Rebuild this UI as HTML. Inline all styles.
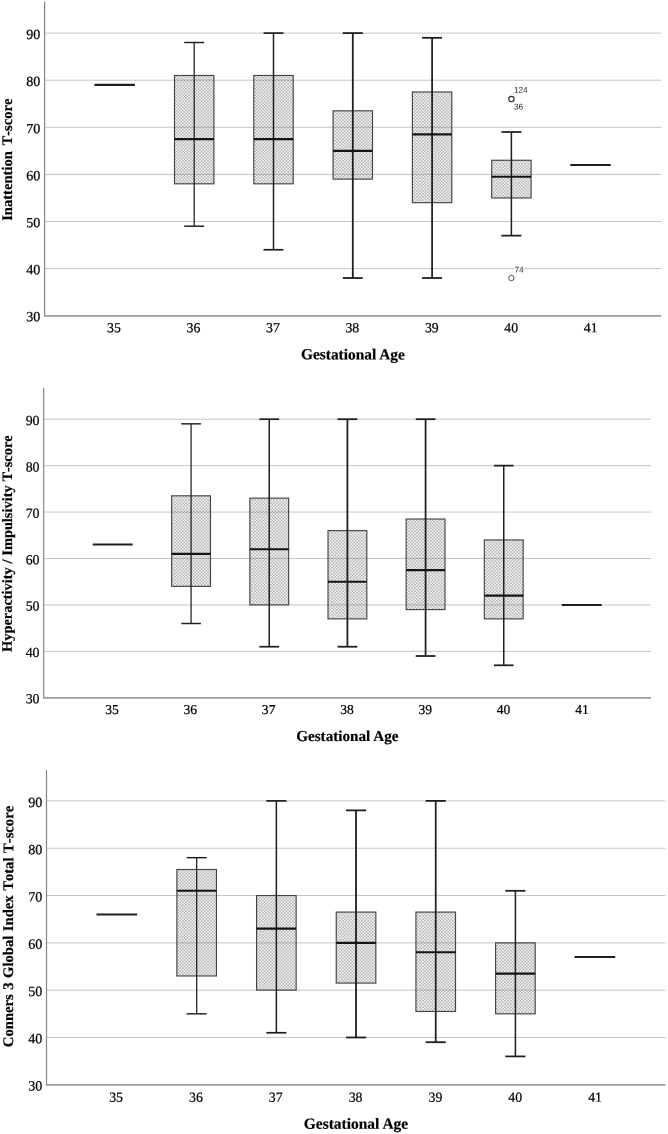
<!DOCTYPE html>
<html lang="en">
<head>
<meta charset="utf-8">
<title>Boxplots of Conners 3 T-scores by Gestational Age</title>
<style>
html,body{margin:0;padding:0;background:#fff;}
body{width:668px;height:1134px;overflow:hidden;}
svg{display:block;will-change:transform;}
text{text-rendering:geometricPrecision;}
.tick{font-family:"Liberation Serif","Times New Roman",Times,serif;fill:#000;stroke:#000;stroke-width:0.22px;}
.ttl{font-family:"Liberation Serif","Times New Roman",Times,serif;font-weight:bold;fill:#000;stroke:#000;stroke-width:0.2px;}
.ylab{font-kerning:none;}
.ol{font-family:"Liberation Sans",Arial,Helvetica,sans-serif;fill:#222;}
</style>
</head>
<body>
<svg width="668" height="1134" viewBox="0 0 668 1134">
<defs>
<pattern id="dots" x="0" y="0" width="3.14" height="3.14" patternUnits="userSpaceOnUse"><rect x="0" y="0" width="3.14" height="3.14" fill="#000" fill-opacity="0.04"/><circle cx="0.785" cy="0.785" r="0.65" fill="#686868"/><circle cx="2.355" cy="2.355" r="0.65" fill="#686868"/></pattern>
</defs>
<rect x="0" y="0" width="668" height="1134" fill="#ffffff"/>
<g id="chart1">
<line x1="44.60" y1="268.60" x2="661.30" y2="268.60" stroke="#c6c6c6" stroke-width="1.0"/>
<line x1="44.60" y1="221.50" x2="661.30" y2="221.50" stroke="#c6c6c6" stroke-width="1.0"/>
<line x1="44.60" y1="174.40" x2="661.30" y2="174.40" stroke="#c6c6c6" stroke-width="1.0"/>
<line x1="44.60" y1="127.30" x2="661.30" y2="127.30" stroke="#c6c6c6" stroke-width="1.0"/>
<line x1="44.60" y1="80.20" x2="661.30" y2="80.20" stroke="#c6c6c6" stroke-width="1.0"/>
<line x1="44.60" y1="33.10" x2="661.30" y2="33.10" stroke="#c6c6c6" stroke-width="1.0"/>
<line x1="94.45" y1="84.91" x2="134.95" y2="84.91" stroke="#1e1e1e" stroke-width="2.1"/>
<rect x="174.50" y="75.49" width="39.40" height="108.33" fill="url(#dots)" stroke="#444444" stroke-width="1.15"/>
<line x1="194.20" y1="42.52" x2="194.20" y2="226.21" stroke="#1e1e1e" stroke-width="1.25"/>
<line x1="184.20" y1="42.52" x2="204.20" y2="42.52" stroke="#1e1e1e" stroke-width="1.45"/>
<line x1="184.20" y1="226.21" x2="204.20" y2="226.21" stroke="#1e1e1e" stroke-width="1.45"/>
<line x1="174.50" y1="139.08" x2="213.90" y2="139.08" stroke="#141414" stroke-width="2.1"/>
<rect x="253.80" y="75.49" width="39.40" height="108.33" fill="url(#dots)" stroke="#444444" stroke-width="1.15"/>
<line x1="273.50" y1="33.10" x2="273.50" y2="249.76" stroke="#1e1e1e" stroke-width="1.50"/>
<line x1="263.50" y1="33.10" x2="283.50" y2="33.10" stroke="#1e1e1e" stroke-width="1.70"/>
<line x1="263.50" y1="249.76" x2="283.50" y2="249.76" stroke="#1e1e1e" stroke-width="1.70"/>
<line x1="253.80" y1="139.08" x2="293.20" y2="139.08" stroke="#141414" stroke-width="2.1"/>
<rect x="333.10" y="110.82" width="39.40" height="68.29" fill="url(#dots)" stroke="#444444" stroke-width="1.15"/>
<line x1="352.80" y1="33.10" x2="352.80" y2="278.02" stroke="#1e1e1e" stroke-width="1.80"/>
<line x1="342.80" y1="33.10" x2="362.80" y2="33.10" stroke="#1e1e1e" stroke-width="1.80"/>
<line x1="342.80" y1="278.02" x2="362.80" y2="278.02" stroke="#1e1e1e" stroke-width="1.80"/>
<line x1="333.10" y1="150.85" x2="372.50" y2="150.85" stroke="#141414" stroke-width="2.1"/>
<rect x="412.40" y="91.98" width="39.40" height="110.69" fill="url(#dots)" stroke="#444444" stroke-width="1.15"/>
<line x1="432.10" y1="37.81" x2="432.10" y2="278.02" stroke="#1e1e1e" stroke-width="1.75"/>
<line x1="422.10" y1="37.81" x2="442.10" y2="37.81" stroke="#1e1e1e" stroke-width="1.80"/>
<line x1="422.10" y1="278.02" x2="442.10" y2="278.02" stroke="#1e1e1e" stroke-width="1.80"/>
<line x1="412.40" y1="134.37" x2="451.80" y2="134.37" stroke="#141414" stroke-width="2.1"/>
<rect x="491.70" y="160.27" width="39.40" height="37.68" fill="url(#dots)" stroke="#444444" stroke-width="1.15"/>
<line x1="511.40" y1="132.01" x2="511.40" y2="235.63" stroke="#1e1e1e" stroke-width="1.50"/>
<line x1="501.40" y1="132.01" x2="521.40" y2="132.01" stroke="#1e1e1e" stroke-width="1.75"/>
<line x1="501.40" y1="235.63" x2="521.40" y2="235.63" stroke="#1e1e1e" stroke-width="1.75"/>
<line x1="491.70" y1="176.76" x2="531.10" y2="176.76" stroke="#141414" stroke-width="2.1"/>
<line x1="570.25" y1="164.98" x2="610.75" y2="164.98" stroke="#1e1e1e" stroke-width="2.1"/>
<text class="ol" x="513.90" y="92.64" transform="rotate(0.03 513.90 92.64)" font-size="8.3" stroke="#fff" stroke-width="2" paint-order="stroke" stroke-linejoin="round">124</text>
<text class="ol" x="513.90" y="109.54" transform="rotate(0.03 513.90 109.54)" font-size="8.3" stroke="#fff" stroke-width="2" paint-order="stroke" stroke-linejoin="round">36</text>
<circle cx="511.40" cy="99.04" r="2.7" fill="none" stroke="#2a2a2a" stroke-width="1.15"/>
<text class="ol" x="514.50" y="272.62" transform="rotate(0.03 514.50 272.62)" font-size="8.3" stroke="#fff" stroke-width="2" paint-order="stroke" stroke-linejoin="round">74</text>
<circle cx="511.40" cy="278.02" r="2.7" fill="none" stroke="#4a4a4a" stroke-width="0.95"/>
<line x1="44.60" y1="1.60" x2="44.60" y2="316.50" stroke="#868686" stroke-width="1.2"/>
<line x1="44.00" y1="315.85" x2="661.30" y2="315.85" stroke="#9e9e9e" stroke-width="1.75"/>
<text class="tick" x="40.40" y="321.30" transform="rotate(0.03 40.40 321.30)" font-size="14.10" text-anchor="end">30</text>
<text class="tick" x="40.40" y="274.27" transform="rotate(0.03 40.40 274.27)" font-size="14.10" text-anchor="end">40</text>
<text class="tick" x="40.40" y="227.23" transform="rotate(0.03 40.40 227.23)" font-size="14.10" text-anchor="end">50</text>
<text class="tick" x="40.40" y="180.20" transform="rotate(0.03 40.40 180.20)" font-size="14.10" text-anchor="end">60</text>
<text class="tick" x="40.40" y="133.17" transform="rotate(0.03 40.40 133.17)" font-size="14.10" text-anchor="end">70</text>
<text class="tick" x="40.40" y="86.13" transform="rotate(0.03 40.40 86.13)" font-size="14.10" text-anchor="end">80</text>
<text class="tick" x="40.40" y="39.10" transform="rotate(0.03 40.40 39.10)" font-size="14.10" text-anchor="end">90</text>
<text class="tick" x="114.00" y="332.20" transform="rotate(0.03 114.00 332.20)" font-size="13.80" text-anchor="middle">35</text>
<text class="tick" x="193.45" y="332.20" transform="rotate(0.03 193.45 332.20)" font-size="13.80" text-anchor="middle">36</text>
<text class="tick" x="272.90" y="332.20" transform="rotate(0.03 272.90 332.20)" font-size="13.80" text-anchor="middle">37</text>
<text class="tick" x="352.35" y="332.20" transform="rotate(0.03 352.35 332.20)" font-size="13.80" text-anchor="middle">38</text>
<text class="tick" x="431.80" y="332.20" transform="rotate(0.03 431.80 332.20)" font-size="13.80" text-anchor="middle">39</text>
<text class="tick" x="511.25" y="332.20" transform="rotate(0.03 511.25 332.20)" font-size="13.80" text-anchor="middle">40</text>
<text class="tick" x="590.70" y="332.20" transform="rotate(0.03 590.70 332.20)" font-size="13.80" text-anchor="middle">41</text>
<text class="ttl" x="352.95" y="359.40" transform="rotate(0.03 352.95 359.40)" font-size="15.40" text-anchor="middle">Gestational Age</text>
<text class="ttl ylab" transform="translate(12.00 159.70) rotate(-89.97)" font-size="14.60" word-spacing="1.90" text-anchor="middle">Inattention T-score</text>
</g>
<g id="chart2">
<line x1="43.70" y1="651.37" x2="651.00" y2="651.37" stroke="#c6c6c6" stroke-width="1.0"/>
<line x1="43.70" y1="604.93" x2="651.00" y2="604.93" stroke="#c6c6c6" stroke-width="1.0"/>
<line x1="43.70" y1="558.50" x2="651.00" y2="558.50" stroke="#c6c6c6" stroke-width="1.0"/>
<line x1="43.70" y1="512.07" x2="651.00" y2="512.07" stroke="#c6c6c6" stroke-width="1.0"/>
<line x1="43.70" y1="465.63" x2="651.00" y2="465.63" stroke="#c6c6c6" stroke-width="1.0"/>
<line x1="43.70" y1="419.20" x2="651.00" y2="419.20" stroke="#c6c6c6" stroke-width="1.0"/>
<line x1="92.75" y1="544.57" x2="132.65" y2="544.57" stroke="#1e1e1e" stroke-width="2.1"/>
<rect x="171.67" y="495.81" width="38.81" height="90.55" fill="url(#dots)" stroke="#444444" stroke-width="1.15"/>
<line x1="191.07" y1="423.84" x2="191.07" y2="623.51" stroke="#1e1e1e" stroke-width="1.25"/>
<line x1="181.22" y1="423.84" x2="200.92" y2="423.84" stroke="#1e1e1e" stroke-width="1.45"/>
<line x1="181.22" y1="623.51" x2="200.92" y2="623.51" stroke="#1e1e1e" stroke-width="1.45"/>
<line x1="171.67" y1="553.86" x2="210.47" y2="553.86" stroke="#141414" stroke-width="2.1"/>
<rect x="249.84" y="498.14" width="38.81" height="106.80" fill="url(#dots)" stroke="#444444" stroke-width="1.15"/>
<line x1="269.24" y1="419.20" x2="269.24" y2="646.72" stroke="#1e1e1e" stroke-width="1.50"/>
<line x1="259.39" y1="419.20" x2="279.09" y2="419.20" stroke="#1e1e1e" stroke-width="1.70"/>
<line x1="259.39" y1="646.72" x2="279.09" y2="646.72" stroke="#1e1e1e" stroke-width="1.70"/>
<line x1="249.84" y1="549.21" x2="288.64" y2="549.21" stroke="#141414" stroke-width="2.1"/>
<rect x="328.01" y="530.64" width="38.81" height="88.22" fill="url(#dots)" stroke="#444444" stroke-width="1.15"/>
<line x1="347.41" y1="419.20" x2="347.41" y2="646.72" stroke="#1e1e1e" stroke-width="1.80"/>
<line x1="337.56" y1="419.20" x2="357.26" y2="419.20" stroke="#1e1e1e" stroke-width="1.80"/>
<line x1="337.56" y1="646.72" x2="357.26" y2="646.72" stroke="#1e1e1e" stroke-width="1.80"/>
<line x1="328.01" y1="581.72" x2="366.81" y2="581.72" stroke="#141414" stroke-width="2.1"/>
<rect x="406.18" y="519.03" width="38.81" height="90.54" fill="url(#dots)" stroke="#444444" stroke-width="1.15"/>
<line x1="425.58" y1="419.20" x2="425.58" y2="656.01" stroke="#1e1e1e" stroke-width="1.75"/>
<line x1="415.73" y1="419.20" x2="435.43" y2="419.20" stroke="#1e1e1e" stroke-width="1.80"/>
<line x1="415.73" y1="656.01" x2="435.43" y2="656.01" stroke="#1e1e1e" stroke-width="1.80"/>
<line x1="406.18" y1="570.11" x2="444.98" y2="570.11" stroke="#141414" stroke-width="2.1"/>
<rect x="484.35" y="539.93" width="38.81" height="78.94" fill="url(#dots)" stroke="#444444" stroke-width="1.15"/>
<line x1="503.75" y1="465.63" x2="503.75" y2="665.30" stroke="#1e1e1e" stroke-width="1.50"/>
<line x1="493.90" y1="465.63" x2="513.60" y2="465.63" stroke="#1e1e1e" stroke-width="1.75"/>
<line x1="493.90" y1="665.30" x2="513.60" y2="665.30" stroke="#1e1e1e" stroke-width="1.75"/>
<line x1="484.35" y1="595.65" x2="523.15" y2="595.65" stroke="#141414" stroke-width="2.1"/>
<line x1="561.77" y1="604.93" x2="601.67" y2="604.93" stroke="#1e1e1e" stroke-width="2.1"/>
<line x1="43.70" y1="388.00" x2="43.70" y2="698.60" stroke="#868686" stroke-width="1.2"/>
<line x1="43.10" y1="697.95" x2="651.00" y2="697.95" stroke="#9e9e9e" stroke-width="1.75"/>
<text class="tick" x="39.50" y="703.32" transform="rotate(0.03 39.50 703.32)" font-size="13.89" text-anchor="end">30</text>
<text class="tick" x="39.50" y="656.95" transform="rotate(0.03 39.50 656.95)" font-size="13.89" text-anchor="end">40</text>
<text class="tick" x="39.50" y="610.58" transform="rotate(0.03 39.50 610.58)" font-size="13.89" text-anchor="end">50</text>
<text class="tick" x="39.50" y="564.22" transform="rotate(0.03 39.50 564.22)" font-size="13.89" text-anchor="end">60</text>
<text class="tick" x="39.50" y="517.85" transform="rotate(0.03 39.50 517.85)" font-size="13.89" text-anchor="end">70</text>
<text class="tick" x="39.50" y="471.48" transform="rotate(0.03 39.50 471.48)" font-size="13.89" text-anchor="end">80</text>
<text class="tick" x="39.50" y="425.12" transform="rotate(0.03 39.50 425.12)" font-size="13.89" text-anchor="end">90</text>
<text class="tick" x="112.00" y="714.05" transform="rotate(0.03 112.00 714.05)" font-size="13.59" text-anchor="middle">35</text>
<text class="tick" x="190.32" y="714.05" transform="rotate(0.03 190.32 714.05)" font-size="13.59" text-anchor="middle">36</text>
<text class="tick" x="268.64" y="714.05" transform="rotate(0.03 268.64 714.05)" font-size="13.59" text-anchor="middle">37</text>
<text class="tick" x="346.96" y="714.05" transform="rotate(0.03 346.96 714.05)" font-size="13.59" text-anchor="middle">38</text>
<text class="tick" x="425.28" y="714.05" transform="rotate(0.03 425.28 714.05)" font-size="13.59" text-anchor="middle">39</text>
<text class="tick" x="503.60" y="714.05" transform="rotate(0.03 503.60 714.05)" font-size="13.59" text-anchor="middle">40</text>
<text class="tick" x="581.92" y="714.05" transform="rotate(0.03 581.92 714.05)" font-size="13.59" text-anchor="middle">41</text>
<text class="ttl" x="347.35" y="741.00" transform="rotate(0.03 347.35 741.00)" font-size="15.17" text-anchor="middle">Gestational Age</text>
<text class="ttl ylab" transform="translate(11.90 543.60) rotate(-89.97)" font-size="14.38" word-spacing="0.20" text-anchor="middle">Hyperactivity / Impulsivity T-score</text>
</g>
<g id="chart3">
<line x1="46.50" y1="1037.48" x2="665.50" y2="1037.48" stroke="#c6c6c6" stroke-width="1.0"/>
<line x1="46.50" y1="990.17" x2="665.50" y2="990.17" stroke="#c6c6c6" stroke-width="1.0"/>
<line x1="46.50" y1="942.85" x2="665.50" y2="942.85" stroke="#c6c6c6" stroke-width="1.0"/>
<line x1="46.50" y1="895.53" x2="665.50" y2="895.53" stroke="#c6c6c6" stroke-width="1.0"/>
<line x1="46.50" y1="848.22" x2="665.50" y2="848.22" stroke="#c6c6c6" stroke-width="1.0"/>
<line x1="46.50" y1="800.90" x2="665.50" y2="800.90" stroke="#c6c6c6" stroke-width="1.0"/>
<line x1="96.46" y1="914.46" x2="137.14" y2="914.46" stroke="#1e1e1e" stroke-width="2.1"/>
<rect x="176.89" y="869.51" width="39.58" height="106.46" fill="url(#dots)" stroke="#444444" stroke-width="1.15"/>
<line x1="196.68" y1="857.68" x2="196.68" y2="1013.82" stroke="#1e1e1e" stroke-width="1.25"/>
<line x1="186.64" y1="857.68" x2="206.72" y2="857.68" stroke="#1e1e1e" stroke-width="1.45"/>
<line x1="186.64" y1="1013.82" x2="206.72" y2="1013.82" stroke="#1e1e1e" stroke-width="1.45"/>
<line x1="176.89" y1="890.80" x2="216.47" y2="890.80" stroke="#141414" stroke-width="2.1"/>
<rect x="256.57" y="895.53" width="39.58" height="94.63" fill="url(#dots)" stroke="#444444" stroke-width="1.15"/>
<line x1="276.36" y1="800.90" x2="276.36" y2="1032.75" stroke="#1e1e1e" stroke-width="1.50"/>
<line x1="266.31" y1="800.90" x2="286.41" y2="800.90" stroke="#1e1e1e" stroke-width="1.70"/>
<line x1="266.31" y1="1032.75" x2="286.41" y2="1032.75" stroke="#1e1e1e" stroke-width="1.70"/>
<line x1="256.57" y1="928.65" x2="296.15" y2="928.65" stroke="#141414" stroke-width="2.1"/>
<rect x="336.25" y="912.09" width="39.58" height="70.98" fill="url(#dots)" stroke="#444444" stroke-width="1.15"/>
<line x1="356.04" y1="810.36" x2="356.04" y2="1037.48" stroke="#1e1e1e" stroke-width="1.80"/>
<line x1="346.00" y1="810.36" x2="366.09" y2="810.36" stroke="#1e1e1e" stroke-width="1.80"/>
<line x1="346.00" y1="1037.48" x2="366.09" y2="1037.48" stroke="#1e1e1e" stroke-width="1.80"/>
<line x1="336.25" y1="942.85" x2="375.83" y2="942.85" stroke="#141414" stroke-width="2.1"/>
<rect x="415.93" y="912.09" width="39.58" height="99.37" fill="url(#dots)" stroke="#444444" stroke-width="1.15"/>
<line x1="435.72" y1="800.90" x2="435.72" y2="1042.21" stroke="#1e1e1e" stroke-width="1.75"/>
<line x1="425.68" y1="800.90" x2="445.77" y2="800.90" stroke="#1e1e1e" stroke-width="1.80"/>
<line x1="425.68" y1="1042.21" x2="445.77" y2="1042.21" stroke="#1e1e1e" stroke-width="1.80"/>
<line x1="415.93" y1="952.31" x2="455.51" y2="952.31" stroke="#141414" stroke-width="2.1"/>
<rect x="495.61" y="942.85" width="39.58" height="70.98" fill="url(#dots)" stroke="#444444" stroke-width="1.15"/>
<line x1="515.40" y1="890.80" x2="515.40" y2="1056.41" stroke="#1e1e1e" stroke-width="1.50"/>
<line x1="505.36" y1="890.80" x2="525.45" y2="890.80" stroke="#1e1e1e" stroke-width="1.75"/>
<line x1="505.36" y1="1056.41" x2="525.45" y2="1056.41" stroke="#1e1e1e" stroke-width="1.75"/>
<line x1="495.61" y1="973.61" x2="535.19" y2="973.61" stroke="#141414" stroke-width="2.1"/>
<line x1="574.54" y1="957.04" x2="615.22" y2="957.04" stroke="#1e1e1e" stroke-width="2.1"/>
<line x1="46.50" y1="770.00" x2="46.50" y2="1085.60" stroke="#868686" stroke-width="1.2"/>
<line x1="45.90" y1="1084.95" x2="665.50" y2="1084.95" stroke="#9e9e9e" stroke-width="1.75"/>
<text class="tick" x="42.30" y="1090.43" transform="rotate(0.03 42.30 1090.43)" font-size="14.16" text-anchor="end">30</text>
<text class="tick" x="42.30" y="1043.18" transform="rotate(0.03 42.30 1043.18)" font-size="14.16" text-anchor="end">40</text>
<text class="tick" x="42.30" y="995.93" transform="rotate(0.03 42.30 995.93)" font-size="14.16" text-anchor="end">50</text>
<text class="tick" x="42.30" y="948.68" transform="rotate(0.03 42.30 948.68)" font-size="14.16" text-anchor="end">60</text>
<text class="tick" x="42.30" y="901.43" transform="rotate(0.03 42.30 901.43)" font-size="14.16" text-anchor="end">70</text>
<text class="tick" x="42.30" y="854.18" transform="rotate(0.03 42.30 854.18)" font-size="14.16" text-anchor="end">80</text>
<text class="tick" x="42.30" y="806.93" transform="rotate(0.03 42.30 806.93)" font-size="14.16" text-anchor="end">90</text>
<text class="tick" x="116.10" y="1101.85" transform="rotate(0.03 116.10 1101.85)" font-size="13.86" text-anchor="middle">35</text>
<text class="tick" x="195.93" y="1101.85" transform="rotate(0.03 195.93 1101.85)" font-size="13.86" text-anchor="middle">36</text>
<text class="tick" x="275.76" y="1101.85" transform="rotate(0.03 275.76 1101.85)" font-size="13.86" text-anchor="middle">37</text>
<text class="tick" x="355.59" y="1101.85" transform="rotate(0.03 355.59 1101.85)" font-size="13.86" text-anchor="middle">38</text>
<text class="tick" x="435.42" y="1101.85" transform="rotate(0.03 435.42 1101.85)" font-size="13.86" text-anchor="middle">39</text>
<text class="tick" x="515.25" y="1101.85" transform="rotate(0.03 515.25 1101.85)" font-size="13.86" text-anchor="middle">40</text>
<text class="tick" x="595.08" y="1101.85" transform="rotate(0.03 595.08 1101.85)" font-size="13.86" text-anchor="middle">41</text>
<text class="ttl" x="356.00" y="1128.80" transform="rotate(0.03 356.00 1128.80)" font-size="15.47" text-anchor="middle">Gestational Age</text>
<text class="ttl ylab" transform="translate(13.10 926.50) rotate(-89.97)" font-size="14.67" word-spacing="0.80" text-anchor="middle">Conners 3 Global Index Total T-score</text>
</g>
</svg>
</body>
</html>
